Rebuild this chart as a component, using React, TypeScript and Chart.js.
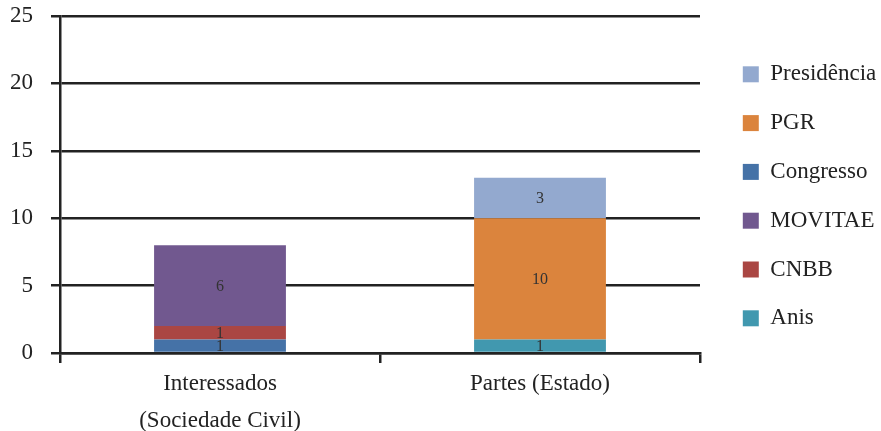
import React, { useEffect, useRef } from "react";
import { Chart, registerables } from "chart.js";

Chart.register(...registerables);

// ---- data ----
const categories: (string | string[])[] = [["Interessados", "(Sociedade Civil)"], "Partes (Estado)"];

// stacking order (bottom to top)
const seriesNames = ["Anis", "Congresso", "CNBB", "MOVITAE", "PGR", "Presidência"];
const anisValues = [null, 1];
const congressoValues = [1, null];
const cnbbValues = [1, null];
const movitaeValues = [6, null];
const pgrValues = [null, 9];
const presidenciaValues = [null, 3];

// value labels as printed on the bars
const anisPrinted = ["", "1"];
const congressoPrinted = ["1", ""];
const cnbbPrinted = ["1", ""];
const movitaePrinted = ["6", ""];
const pgrPrinted = ["", "10"];
const presidenciaPrinted = ["", "3"];

const seriesColors = ["#4198AF", "#4572A7", "#AA4643", "#71588F", "#DB843D", "#93A9CF"];
const legendOrder = ["Presidência", "PGR", "Congresso", "MOVITAE", "CNBB", "Anis"];
const yTicks = [0, 5, 10, 15, 20, 25];

const seriesValues = [anisValues, congressoValues, cnbbValues, movitaeValues, pgrValues, presidenciaValues];
const seriesPrinted = [anisPrinted, congressoPrinted, cnbbPrinted, movitaePrinted, pgrPrinted, presidenciaPrinted];

const FONT = "'Liberation Serif', 'Times New Roman', serif";
const INK = "#222222";

const valueLabelPlugin = {
  id: "valueLabels",
  afterDatasetsDraw(chart: any) {
    const ctx = chart.ctx;
    ctx.save();
    ctx.font = `16px ${FONT}`;
    ctx.fillStyle = "#333333";
    ctx.textAlign = "center";
    ctx.textBaseline = "middle";
    chart.data.datasets.forEach((ds: any, i: number) => {
      const meta = chart.getDatasetMeta(i);
      meta.data.forEach((bar: any, j: number) => {
        const v = ds.data[j];
        if (v == null) return;
        const { x, y, base } = bar.getProps(["x", "y", "base"], true);
        ctx.fillText(seriesPrinted[i][j], x, (y + base) / 2 + 1);
      });
    });
    ctx.restore();
  },
};

export default function App() {
  const ref = useRef<HTMLCanvasElement | null>(null);

  useEffect(() => {
    document.body.style.margin = "0";
    if (!ref.current) return;
    const chart = new Chart(ref.current, {
      type: "bar",
      data: {
        labels: categories as any,
        datasets: seriesNames.map((name, i) => ({
          label: name,
          data: seriesValues[i] as any,
          backgroundColor: seriesColors[i],
          borderWidth: 0,
          categoryPercentage: 1,
          barPercentage: 0.412,
        })),
      },
      options: {
        animation: false,
        responsive: false,
        maintainAspectRatio: false,
        layout: { padding: { top: 16, left: 0, right: 0, bottom: 0 } },
        plugins: {
          tooltip: { enabled: false },
          legend: {
            position: "right",
            align: "start",
            maxWidth: 164,
            title: { display: true, text: "", font: { size: 1, lineHeight: 1 }, padding: { top: 20, bottom: 0 } },
            labels: {
              boxWidth: 16,
              boxHeight: 16,
              padding: 25.8,
              color: INK,
              font: { family: FONT, size: 23 },
              sort: (a: any, b: any) => legendOrder.indexOf(a.text) - legendOrder.indexOf(b.text),
            },
          },
        },
        scales: {
          x: {
            stacked: true,
            offset: true,
            grid: {
              display: true,
              offset: true,
              drawOnChartArea: false,
              drawTicks: true,
              tickLength: 10,
              color: INK,
              lineWidth: 2.5,
            },
            border: { display: true, color: INK, width: 2.5 },
            ticks: {
              color: INK,
              padding: 1.5,
              maxRotation: 0,
              font: { family: FONT, size: 23, lineHeight: 1.65 },
            },
            afterFit: (s: any) => {
              s.height = 78;
              s.paddingLeft = 0;
              s.paddingRight = 0;
            },
          },
          y: {
            stacked: true,
            min: 0,
            max: 25,
            afterBuildTicks: (s: any) => {
              s.ticks = yTicks.map((v) => ({ value: v }));
            },
            grid: {
              color: INK,
              lineWidth: 2.5,
              drawTicks: true,
              tickLength: 9,
            },
            border: { display: true, color: INK, width: 2.5 },
            ticks: {
              color: INK,
              padding: 18,
              font: { family: FONT, size: 23 },
            },
            afterFit: (s: any) => {
              s.width = 60;
              s.paddingTop = 0;
              s.paddingBottom = 0;
            },
          },
          gap: {
            type: "linear",
            position: "right",
            display: true,
            grid: { display: false },
            border: { display: false },
            ticks: { display: false },
            afterFit: (s: any) => {
              s.width = 17;
              s.paddingTop = 0;
              s.paddingBottom = 0;
            },
          },
        },
      },
      plugins: [valueLabelPlugin],
    } as any);
    return () => chart.destroy();
  }, []);

  return (
    <div style={{ width: 881, height: 431 }}>
      <canvas ref={ref} width={881} height={431} style={{ display: "block", width: 881, height: 431 }} />
    </div>
  );
}
